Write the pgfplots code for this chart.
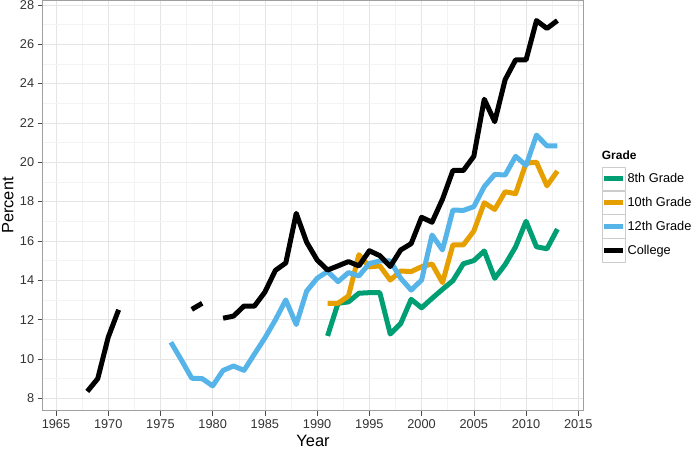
\documentclass[border=0pt]{standalone}
\usepackage{pgfplots}
\pgfplotsset{compat=1.18}
\usepackage{fontspec}
\setmainfont{Liberation Sans}
\definecolor{eighth}{HTML}{009E73}
\definecolor{tenth}{HTML}{E69F00}
\definecolor{twelfth}{HTML}{56B4E9}
\definecolor{gridmaj}{HTML}{E5E5E5}
\definecolor{gridmin}{HTML}{F3F3F3}
\definecolor{frame}{HTML}{A0A0A0}

\begin{document}
\begin{tikzpicture}
\path[use as bounding box] (-42.7bp,-38.3bp) rectangle (652.3bp,410.7bp);
\begin{axis}[
  at={(0,0)}, anchor=south west,
  scale only axis, width=540.6bp, height=410.2bp,
  xmin=1963.73, xmax=2015.48, ymin=7.37, ymax=28.22,
  xtick={1965,1970,...,2015}, ytick={8,10,...,28},
  minor x tick num=1, minor y tick num=1,
  grid=both,
  major grid style={gridmaj, line width=0.6bp},
  minor grid style={gridmin, line width=0.5bp},
  axis line style={frame, line width=0.8bp},
  tick align=outside, xtick pos=bottom, ytick pos=left,
  major tick length=5bp, minor tick length=0bp,
  tick style={black!70, line width=0.6bp},
  /pgf/number format/assume math mode=true,
  /pgf/number format/1000 sep={},
  tick label style={font=\fontsize{12.8}{14}\selectfont, text=black!80},
  xlabel={Year}, ylabel={Percent},
  label style={font=\fontsize{16.5}{19}\selectfont},
  xlabel style={at={(axis description cs:0.5,-0.0739)}, anchor=center},
  ylabel style={at={(axis description cs:-0.0647,0.5)}, anchor=center},
  unbounded coords=jump,
  every axis plot/.append style={line width=5bp, line join=round, line cap=butt},
  legend cell align=left,
  legend style={at={(1.034,0.595)}, anchor=north west, draw=none, fill=none,
    inner sep=0pt, outer sep=0pt, row sep=0pt, column sep=0pt,
    font=\fontsize{12.8}{14}\selectfont},
  legend image code/.code={
    \draw[black!20, line width=0.6bp, fill=white, solid] (0bp,-11.65bp) rectangle (23.3bp,11.65bp);
    \draw[#1] (2.3bp,0bp) -- (21bp,0bp);
  },
]
% 8th grade
\addplot[eighth] coordinates {
 (1991,11.17) (1992,12.83) (1993,12.9) (1994,13.34) (1995,13.37) (1996,13.37)
 (1997,11.27) (1998,11.8) (1999,13.03) (2000,12.6) (2001,13.08) (2002,13.54)
 (2003,13.98) (2004,14.84) (2005,15.0) (2006,15.49) (2007,14.1) (2008,14.8)
 (2009,15.7) (2010,17.0) (2011,15.7) (2012,15.6) (2013,16.6)
};
% 10th grade
\addplot[tenth] coordinates {
 (1991,12.83) (1992,12.83) (1993,13.2) (1994,15.3) (1995,14.68) (1996,14.73)
 (1997,14.01) (1998,14.47) (1999,14.44) (2000,14.69) (2001,14.83) (2002,13.88)
 (2003,15.8) (2004,15.8) (2005,16.5) (2006,17.94) (2007,17.6) (2008,18.5)
 (2009,18.4) (2010,19.95) (2011,20.0) (2012,18.8) (2013,19.55)
};
% 12th grade
\addplot[twelfth] coordinates {
 (1976,10.85) (1977,9.95) (1978,9.02) (1979,9.0) (1980,8.63) (1981,9.42)
 (1982,9.64) (1983,9.42) (1984,10.25) (1985,11.07) (1986,11.98) (1987,13.0)
 (1988,11.75) (1989,13.45) (1990,14.1) (1991,14.45) (1992,13.93) (1993,14.39)
 (1994,14.22) (1995,14.85) (1996,14.98) (1997,14.98) (1998,14.1) (1999,13.5)
 (2000,14.01) (2001,16.3) (2002,15.54) (2003,17.57) (2004,17.55) (2005,17.74)
 (2006,18.76) (2007,19.38) (2008,19.35) (2009,20.3) (2010,19.84) (2011,21.38)
 (2012,20.83) (2013,20.83)
};
% college
\addplot[black] coordinates {
 (1968,8.35) (1969,9.0) (1970,11.1) (1971,12.5) (1972,nan)
 (1978,12.52) (1979,12.83) (1980,nan)
 (1981,12.07) (1982,12.18) (1983,12.69) (1984,12.69) (1985,13.4) (1986,14.5)
 (1987,14.88) (1988,17.4) (1989,15.93) (1990,15.03) (1991,14.52) (1992,14.73)
 (1993,14.95) (1994,14.73) (1995,15.5) (1996,15.25) (1997,14.7) (1998,15.54)
 (1999,15.86) (2000,17.2) (2001,16.95) (2002,18.12) (2003,19.58) (2004,19.58)
 (2005,20.3) (2006,23.2) (2007,22.06) (2008,24.2) (2009,25.2) (2010,25.2)
 (2011,27.2) (2012,26.8) (2013,27.2)
};
\legend{8th Grade,10th Grade,12th Grade,College}
\end{axis}
\node[anchor=base west, inner sep=0pt, font=\fontsize{12}{14}\selectfont\bfseries] at (559bp,251.4bp) {Grade};
\end{tikzpicture}
\end{document}
